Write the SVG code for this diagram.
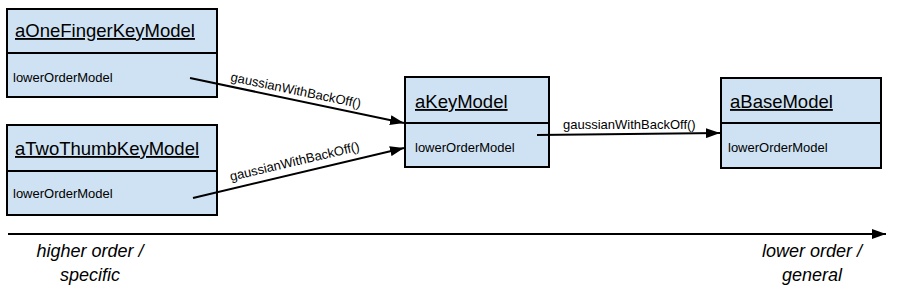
<svg xmlns="http://www.w3.org/2000/svg" width="907" height="307" viewBox="0 0 907 307">
  <style>
    .box { fill: #cfe2f3; stroke: #000; stroke-width: 2; }
    .sep { stroke: #000; stroke-width: 2; }
    .title { font-family: "Liberation Sans", Arial, sans-serif; font-size: 18.5px; text-decoration: underline; fill: #000; }
    .attr { font-family: "Liberation Sans", Arial, sans-serif; font-size: 13px; fill: #000; }
    .lbl { font-family: "Liberation Sans", Arial, sans-serif; font-size: 13px; fill: #000; }
    .axis-lbl { font-family: "Liberation Sans", Arial, sans-serif; font-size: 18px; font-style: italic; fill: #000; text-anchor: middle; }
    .edge { stroke: #000; stroke-width: 2; fill: none; marker-end: url(#arrow); }
  </style>
  <defs>
    <marker id="arrow" viewBox="0 0 14 10" refX="14" refY="5" markerWidth="14" markerHeight="10" markerUnits="userSpaceOnUse" orient="auto">
      <path d="M0,0 L14,5 L0,10 Z" fill="#000"/>
    </marker>
  </defs>

  <rect width="907" height="307" fill="#fff"/>

  <g id="aOneFingerKeyModel">
    <rect class="box" x="7" y="9" width="210" height="88"/>
    <line class="sep" x1="7" y1="53" x2="217" y2="53"/>
    <text class="title" x="15" y="37">aOneFingerKeyModel</text>
    <text class="attr" x="13" y="82">lowerOrderModel</text>
  </g>

  <g id="aTwoThumbKeyModel">
    <rect class="box" x="7" y="125" width="210" height="90"/>
    <line class="sep" x1="7" y1="171" x2="217" y2="171"/>
    <text class="title" x="15" y="155">aTwoThumbKeyModel</text>
    <text class="attr" x="13" y="198">lowerOrderModel</text>
  </g>

  <g id="aKeyModel">
    <rect class="box" x="405" y="77" width="144" height="90"/>
    <line class="sep" x1="405" y1="123" x2="549" y2="123"/>
    <text class="title" x="415" y="108">aKeyModel</text>
    <text class="attr" x="415" y="152">lowerOrderModel</text>
  </g>

  <g id="aBaseModel">
    <rect class="box" x="721" y="78" width="160" height="90"/>
    <line class="sep" x1="721" y1="123" x2="881" y2="123"/>
    <text class="title" x="730" y="108">aBaseModel</text>
    <text class="attr" x="728" y="152">lowerOrderModel</text>
  </g>

  <g id="connectors">
    <line class="edge" x1="190" y1="78" x2="404" y2="123"/>
    <text class="lbl" transform="translate(230,81) rotate(11.8)">gaussianWithBackOff()</text>
    <line class="edge" x1="193" y1="198" x2="404" y2="148"/>
    <text class="lbl" transform="translate(231,181) rotate(-13.3)">gaussianWithBackOff()</text>
    <line class="edge" x1="537" y1="135" x2="720" y2="133"/>
    <text class="lbl" x="563" y="129">gaussianWithBackOff()</text>
  </g>

  <g id="axis">
    <line class="edge" x1="8" y1="234" x2="886" y2="234"/>
    <text class="axis-lbl" x="90" y="257">higher order /</text>
    <text class="axis-lbl" x="90" y="281">specific</text>
    <text class="axis-lbl" x="812" y="257">lower order /</text>
    <text class="axis-lbl" x="812" y="281">general</text>
  </g>
</svg>
